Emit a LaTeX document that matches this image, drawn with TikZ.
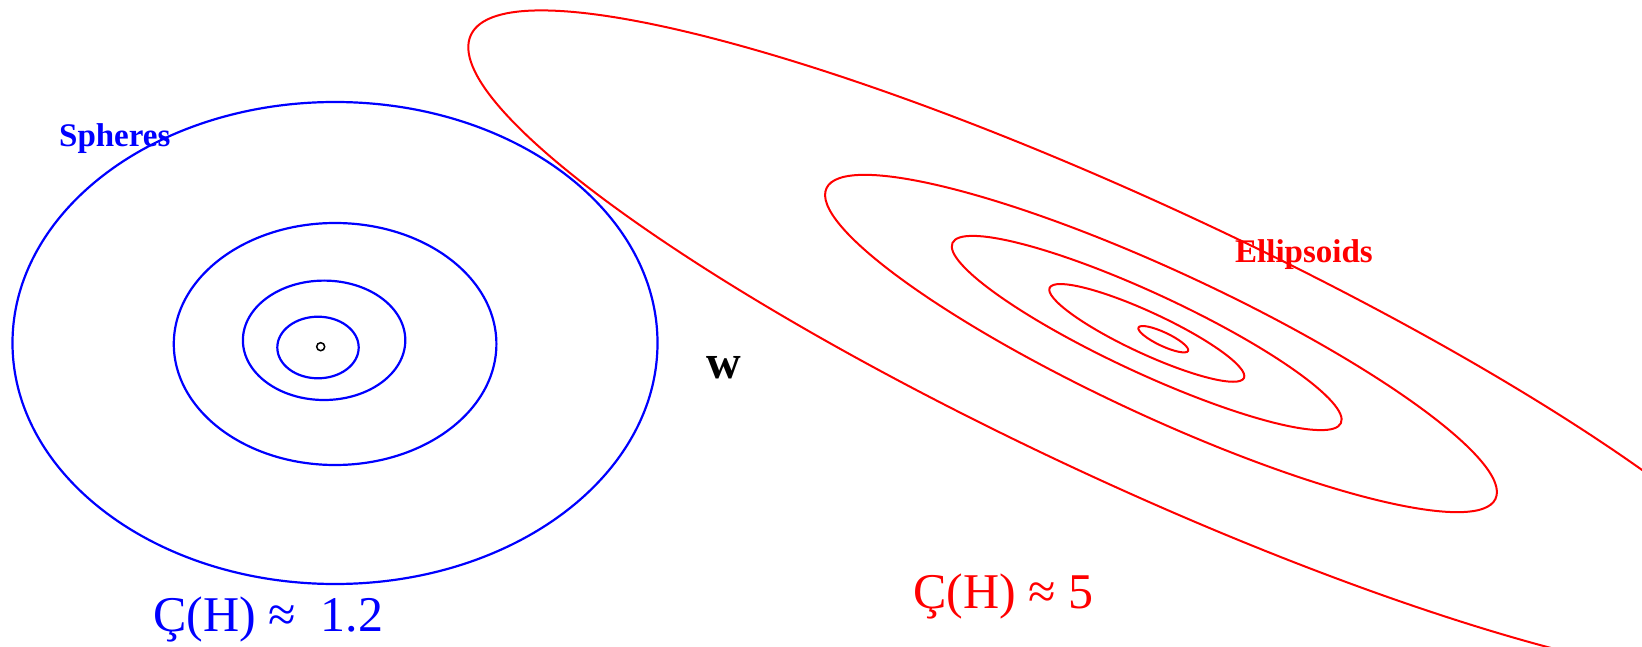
\documentclass[tikz,border=0pt]{standalone}
\usepackage{fontspec}
\setmainfont{Liberation Serif}
\begin{document}
\begin{tikzpicture}[x=1pt,y=-1pt,
  blueline/.style={draw=blue,line width=2.2pt},
  redline/.style={draw=red,line width=2pt},
  lbl/.style={inner sep=0pt,anchor=base west}]
\useasboundingbox (0,0) rectangle (1642,647);
\begin{scope}
\clip (0,0) rectangle (1642,647);
% blue spheres
\draw[blueline] (335,343) ellipse [x radius=322.5pt, y radius=241pt];
\draw[blueline] (335.1,344) ellipse [x radius=161.3pt, y radius=121pt];
\draw[blueline] (324.1,340.3) ellipse [x radius=81.2pt, y radius=59.7pt];
\draw[blueline] (318,347.5) ellipse [x radius=40.7pt, y radius=30.8pt];
\draw[black,line width=1.5pt] (320.7,346.7) circle [radius=4pt];
% red ellipsoids
\draw[redline, rotate around={-25.2:(1163.3,339.2)}] (1163.3,339.2) ellipse [x radius=27.4pt, y radius=6.8pt];
\draw[redline, rotate around={-24.9:(1146.8,332.9)}] (1146.8,332.9) ellipse [x radius=107.1pt, y radius=20.7pt];
\draw[redline, rotate around={-24.9:(1146.7,333)}] (1146.7,333) ellipse [x radius=214.1pt, y radius=39.8pt];
\draw[redline, rotate around={-24.9:(1161,343.5)}] (1161,343.5) ellipse [x radius=368.8pt, y radius=72.5pt];
\draw[redline, rotate around={-24.93:(1136.3,344.3)}] (1136.3,344.3) ellipse [x radius=733.8pt, y radius=138.4pt];
\end{scope}
% labels
\node[lbl,text=blue,font=\fontsize{33}{40}\selectfont\bfseries] (spheres) at (59,147) {Spheres};
\node[lbl,text=red,font=\fontsize{33}{40}\selectfont\bfseries] (ellipsoids) at (1235,262.5) {Ellipsoids};
\node[lbl,text=black,font=\fontsize{48}{56}\selectfont\bfseries] (w) at (706,378) {w};
\node[lbl,text=blue,font=\fontsize{50}{60}\selectfont] (condblue) at (153,631.5) {Ç(H) ≈\ \ 1.2};
\node[lbl,text=red,font=\fontsize{50}{60}\selectfont] (condred) at (913,608) {Ç(H) ≈ 5};
\end{tikzpicture}
\end{document}
